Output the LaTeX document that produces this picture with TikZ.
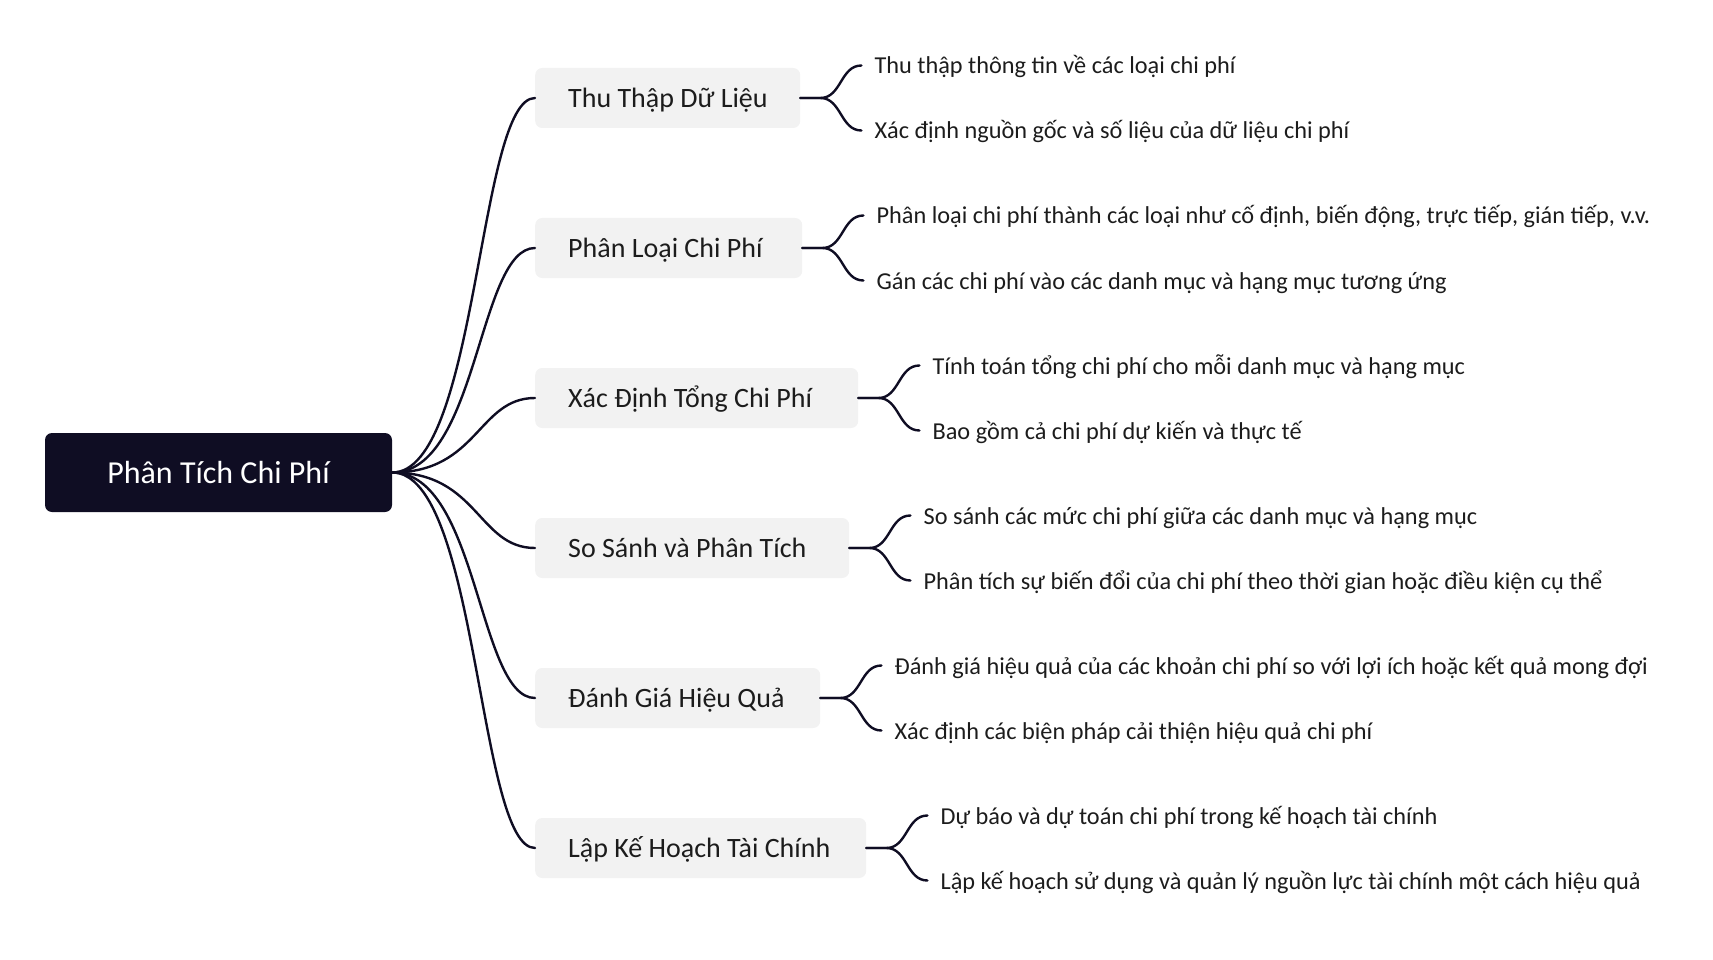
\documentclass[tikz,border=0pt]{standalone}
\usepackage{fontspec}
\setmainfont{Carlito}
\usetikzlibrary{calc}
\definecolor{navy}{HTML}{0F0D23}
\definecolor{boxgrey}{HTML}{F2F2F2}
\definecolor{ink}{HTML}{1C1C1C}
\newcommand{\toptxt}[2]{\makebox[#1][l]{#2}}
\begin{document}
\begin{tikzpicture}[x=1pt,y=-1pt,
 rootbox/.style={fill=navy, rounded corners=7pt, text=white, font=\fontsize{32}{38}\selectfont, minimum width=347pt, minimum height=79pt, inner sep=0pt, text height=25pt, text depth=4pt},
 topicbox/.style={fill=boxgrey, rounded corners=7pt, text=ink, font=\fontsize{28}{33}\selectfont, minimum height=60pt, inner ysep=0pt, inner xsep=33pt, anchor=west, text height=22pt, text depth=3pt},
 leaf/.style={anchor=west, inner xsep=13pt, inner ysep=0pt, text=ink, font=\fontsize{24.3}{28}\selectfont, text height=19pt, text depth=2pt},
 link/.style={draw=navy, line width=2.4pt, line cap=round},
]
\useasboundingbox (0,0) rectangle (1713,960);
\node[rootbox] (root) at (218.5,472.5) {Phân Tích Chi Phí};

\node[topicbox] (t1) at (535,98) {\toptxt{199pt}{Thu Thập Dữ Liệu}};
\node[topicbox] (t2) at (535,248) {\toptxt{201pt}{Phân Loại Chi Phí}};
\node[topicbox] (t3) at (535,398) {\toptxt{257pt}{Xác Định Tổng Chi Phí}};
\node[topicbox] (t4) at (535,548) {\toptxt{248pt}{So Sánh và Phân Tích}};
\node[topicbox] (t5) at (535,698) {\toptxt{219pt}{Đánh Giá Hiệu Quả}};
\node[topicbox] (t6) at (535,848) {\toptxt{265pt}{Lập Kế Hoạch Tài Chính}};

\node[leaf] (c11) at ($(t1.east)+(61,-32.5)$) {Thu thập thông tin về các loại chi phí};
\node[leaf] (c12) at ($(t1.east)+(61,32.5)$) {Xác định nguồn gốc và số liệu của dữ liệu chi phí};
\node[leaf] (c21) at ($(t2.east)+(61,-32.5)$) {Phân loại chi phí thành các loại như cố định, biến động, trực tiếp, gián tiếp, v.v.};
\node[leaf] (c22) at ($(t2.east)+(61,32.5)$) {Gán các chi phí vào các danh mục và hạng mục tương ứng};
\node[leaf] (c31) at ($(t3.east)+(61,-32.5)$) {Tính toán tổng chi phí cho mỗi danh mục và hạng mục};
\node[leaf] (c32) at ($(t3.east)+(61,32.5)$) {Bao gồm cả chi phí dự kiến và thực tế};
\node[leaf] (c41) at ($(t4.east)+(61,-32.5)$) {So sánh các mức chi phí giữa các danh mục và hạng mục};
\node[leaf] (c42) at ($(t4.east)+(61,32.5)$) {Phân tích sự biến đổi của chi phí theo thời gian hoặc điều kiện cụ thể};
\node[leaf] (c51) at ($(t5.east)+(61,-32.5)$) {Đánh giá hiệu quả của các khoản chi phí so với lợi ích hoặc kết quả mong đợi};
\node[leaf] (c52) at ($(t5.east)+(61,32.5)$) {Xác định các biện pháp cải thiện hiệu quả chi phí};
\node[leaf] (c61) at ($(t6.east)+(61,-32.5)$) {Dự báo và dự toán chi phí trong kế hoạch tài chính};
\node[leaf] (c62) at ($(t6.east)+(61,32.5)$) {Lập kế hoạch sử dụng và quản lý nguồn lực tài chính một cách hiệu quả};

\foreach \t in {t1,t2,t3,t4,t5,t6}{
  \draw[link] (root.east) .. controls ($(root.east)+(86,0)$) and ($(\t.west)+(-57,0)$) .. (\t.west);
}
\foreach \t/\a/\b in {t1/c11/c12,t2/c21/c22,t3/c31/c32,t4/c41/c42,t5/c51/c52,t6/c61/c62}{
  \draw[link] (\t.east) -- ++(20,0) .. controls +(21,0) and +(-21,0) .. (\a.west);
  \draw[link] (\t.east) -- ++(20,0) .. controls +(21,0) and +(-21,0) .. (\b.west);
}
\end{tikzpicture}
\end{document}
